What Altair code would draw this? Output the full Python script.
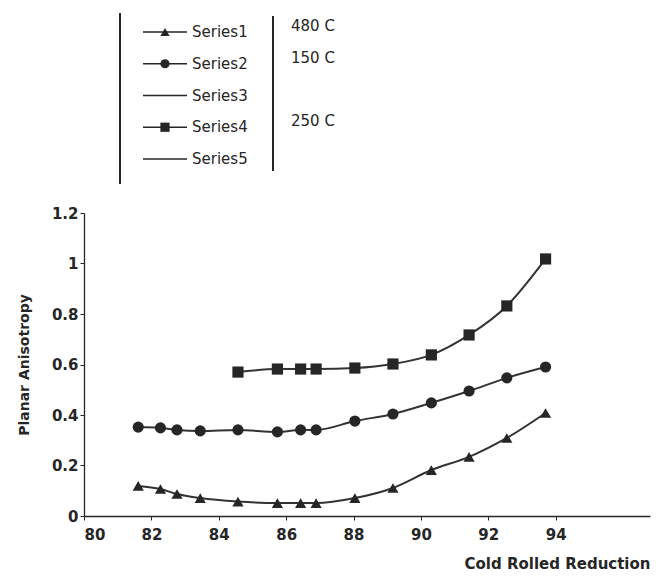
import altair as alt
import pandas as pd

# ---- data ----
x_vals = [81.61, 82.27, 82.76, 83.45, 84.57, 85.74, 86.43, 86.89, 88.04, 89.17, 90.31, 91.43, 92.55, 93.70]
series1 = [0.119, 0.107, 0.087, 0.071, 0.057, 0.051, 0.051, 0.051, 0.071, 0.111, 0.182, 0.234, 0.309, 0.408]
series2 = [0.352, 0.349, 0.341, 0.337, 0.341, 0.333, 0.341, 0.341, 0.376, 0.404, 0.448, 0.495, 0.547, 0.590]
series4_x = x_vals[4:]
series4 = [0.570, 0.582, 0.582, 0.582, 0.586, 0.602, 0.638, 0.717, 0.832, 1.018]

legend_names = ["Series1", "Series2", "Series3", "Series4", "Series5"]
marker_series = ["Series1", "Series2", "Series4"]
marker_shapes = ["triangle-up", "circle", "square"]
temp_labels = ["480 C", "150 C", "250 C"]
x_ticks = [80, 82, 84, 86, 88, 90, 92, 94]
y_ticks = [0, 0.2, 0.4, 0.6, 0.8, 1, 1.2]

rows = []
for name, xs, ys in [("Series1", x_vals, series1), ("Series2", x_vals, series2), ("Series4", series4_x, series4)]:
    rows += [{"series": name, "x": a, "y": b} for a, b in zip(xs, ys)]
df = pd.DataFrame(rows)

FONT = "DejaVu Sans"
INK = "#262626"

shape_scale = alt.Scale(domain=marker_series, range=marker_shapes)

base = alt.Chart(df).encode(
    x=alt.X("x:Q",
            scale=alt.Scale(domain=[80, 96.8], nice=False, zero=False),
            axis=alt.Axis(values=x_ticks, title="Cold Rolled Reduction", grid=False,
                          tickSize=4, labelPadding=7, titlePadding=14,
                          titleAnchor="end", labelFontSize=15, labelFontWeight="bold",
                          titleFontSize=15, titleFontWeight="bold")),
    y=alt.Y("y:Q",
            scale=alt.Scale(domain=[0, 1.2], nice=False),
            axis=alt.Axis(values=y_ticks, format="~g", title="Planar Anisotropy", grid=False,
                          tickSize=4, labelPadding=2, titlePadding=20,
                          labelFontSize=15, labelFontWeight="bold",
                          titleFontSize=14, titleFontWeight="bold")),
    detail="series:N",
)
lines = base.mark_line(interpolate="monotone", color="#333333", strokeWidth=2)
points = base.mark_point(filled=True, size=125, color=INK, opacity=1).encode(
    shape=alt.Shape("series:N", scale=shape_scale, legend=None)
)
main = alt.layer(lines, points)

# ---- hand-drawn legend box (as in the scanned Excel chart) ----
legend_df = pd.DataFrame({"series": legend_names})
temp_df = pd.DataFrame({"series": marker_series, "label": temp_labels})
ly = alt.Y("series:N",
           scale=alt.Scale(type="point", domain=legend_names, range=[-181, -54], padding=0),
           axis=None)

leg_lines = alt.Chart(legend_df).mark_rule(color=INK, strokeWidth=1.5).encode(
    x=alt.value(59), x2=alt.value(103), y=ly)
leg_pts = alt.Chart(legend_df).transform_filter(
    alt.FieldOneOfPredicate(field="series", oneOf=marker_series)
).mark_point(filled=True, size=85, color=INK, opacity=1).encode(
    x=alt.value(81), y=ly, shape=alt.Shape("series:N", scale=shape_scale, legend=None))
leg_text = alt.Chart(legend_df).mark_text(
    align="left", baseline="middle", font=FONT, fontSize=15, color=INK
).encode(x=alt.value(108), y=ly, text="series:N")
temp_text = alt.Chart(temp_df).mark_text(
    align="left", baseline="middle", font=FONT, fontSize=15, color=INK, dy=-6
).encode(x=alt.value(207), y=ly, text="label:N")

one = pd.DataFrame({"k": [0]})
left_border = alt.Chart(one).mark_rule(color=INK, strokeWidth=2).encode(
    x=alt.value(36), y=alt.value(-200), y2=alt.value(-29))
right_border = alt.Chart(one).mark_rule(color=INK, strokeWidth=2).encode(
    x=alt.value(189), y=alt.value(-197), y2=alt.value(-42))

chart = alt.layer(
    main, leg_lines, leg_pts, leg_text, temp_text, left_border, right_border
).resolve_scale(y="independent").properties(
    width=566, height=303,
    padding={"left": 9, "top": 4, "right": 2, "bottom": 5},
    background="white",
).configure_view(stroke=None).configure_axis(
    domainColor=INK, domainWidth=1.3, tickColor=INK,
    labelFont=FONT, titleFont=FONT, labelColor=INK, titleColor=INK,
)

chart.save("out.html", embed_options={"renderer": "svg", "actions": False})
